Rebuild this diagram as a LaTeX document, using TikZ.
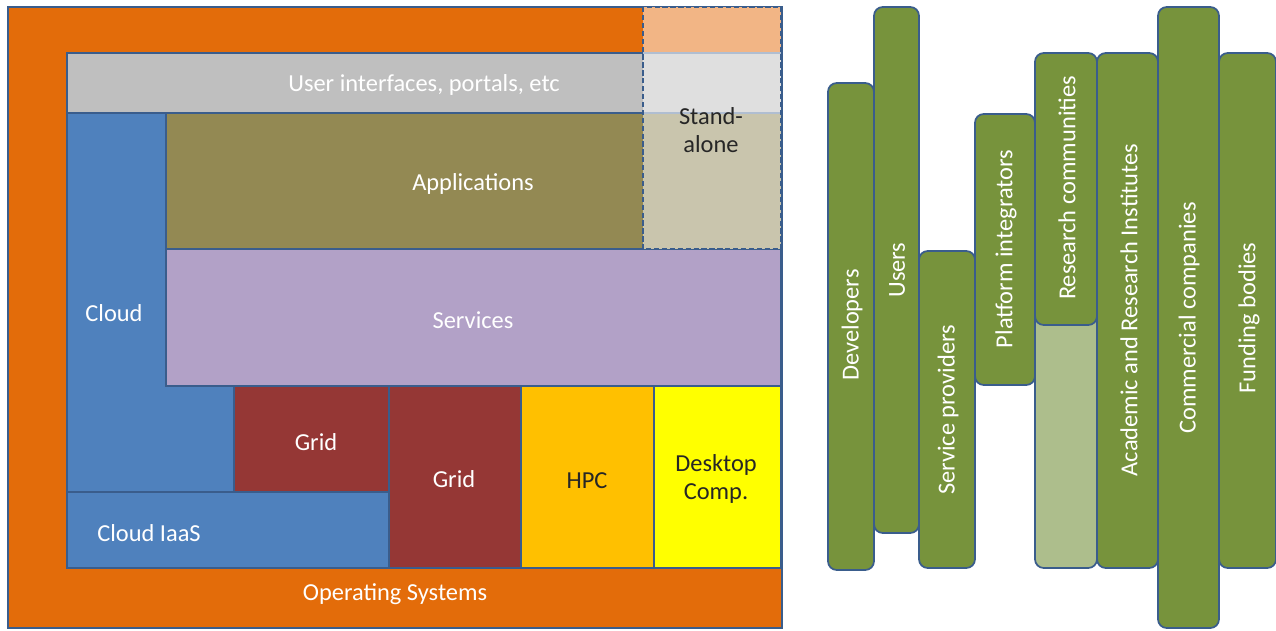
\documentclass[tikz,border=0pt]{standalone}
\usepackage{fontspec}
\setmainfont{Carlito}
\usepackage{xcolor}
\definecolor{edgeBlue}{HTML}{3A5D8C}
\definecolor{osOrange}{HTML}{E36C0A}
\definecolor{uiGray}{HTML}{BFBFBF}
\definecolor{appOlive}{HTML}{938953}
\definecolor{svcLilac}{HTML}{B2A1C7}
\definecolor{cloudBlue}{HTML}{4F81BD}
\definecolor{gridRed}{HTML}{953735}
\definecolor{hpcAmber}{HTML}{FFC000}
\definecolor{deskYellow}{HTML}{FFFF00}
\definecolor{sa Peach}{HTML}{F2B585}
\definecolor{saGray}{HTML}{DFDFDF}
\definecolor{saTan}{HTML}{C9C5AD}
\definecolor{barGreen}{HTML}{77933C}
\definecolor{paleGreen}{HTML}{ADBE8C}
\usepackage{tikz}
\usetikzlibrary{positioning,calc}
\tikzset{%
  layerBox/.style={%
    draw=edgeBlue,
    line width=1pt
  },
  layerText/.style={%
    text=white,
    font=\fontsize{13.9}{16}\selectfont,
    align=center,
    inner sep=0pt
  },
  darkText/.style={%
    layerText,
    text=black!85
  },
  actorBar/.style={%
    draw=edgeBlue,
    line width=1pt,
    fill=barGreen,
    rounded corners=5pt
  },
  actorText/.style={%
    layerText,
    rotate=90
  }
}

\begin{document}
\begin{tikzpicture}[x=0.02cm,y=-0.02cm]
  \useasboundingbox (0,0) rectangle (1276,630);

  % software stack
  \filldraw[layerBox,fill=osOrange] (8,7) rectangle (782,628);
  \filldraw[layerBox,fill=uiGray] (67,53) rectangle (781,113);
  \filldraw[layerBox,fill=appOlive] (166,113) rectangle (781,249);
  \filldraw[layerBox,fill=svcLilac] (166,249) rectangle (781,386);
  \filldraw[layerBox,fill=cloudBlue] (67,113) -- (166,113) -- (166,386)
    -- (234,386) -- (234,492) -- (67,492) -- cycle;
  \filldraw[layerBox,fill=cloudBlue] (67,492) rectangle (389,568);
  \filldraw[layerBox,fill=gridRed] (234,386) rectangle (389,492);
  \filldraw[layerBox,fill=gridRed] (389,386) rectangle (521,568);
  \filldraw[layerBox,fill=hpcAmber] (521,386) rectangle (654,568);
  \filldraw[layerBox,fill=deskYellow] (654,386) rectangle (781,568);

  % stand-alone column
  \fill[sa Peach] (643,7) rectangle (781,53);
  \fill[saGray] (643,53) rectangle (781,113);
  \fill[saTan] (643,113) rectangle (781,249);
  \draw[edgeBlue!40,line width=0.8pt] (643,53) -- (781,53) (643,113) -- (781,113);
  \draw[layerBox,dashed,dash pattern=on 3pt off 1.5pt] (643,7) rectangle (781,249);

  \node[layerText] (ui) at (424,85) {User interfaces, portals, etc};
  \node[layerText] (apps) at (473,184) {Applications};
  \node[layerText] (svc) at (473,320) {Services};
  \node[layerText] (cloud) at (114,313) {Cloud};
  \node[layerText] (iaas) at (149,533) {Cloud IaaS};
  \node[layerText] (grid1) at (316,442) {Grid};
  \node[layerText] (grid2) at (454,479) {Grid};
  \node[darkText] (hpc) at (587,481) {HPC};
  \node[darkText] (desk) at (716,479) {Desktop\\Comp.};
  \node[darkText] (sa) at (711,130) {Stand-\\alone};
  \node[layerText] (os) at (395,594) {Operating Systems};

  % stakeholders
  \filldraw[actorBar] (828,83) rectangle (874,570);
  \filldraw[actorBar] (874,7) rectangle (919,533);
  \filldraw[actorBar] (919,251) rectangle (975,568);
  \filldraw[actorBar] (975,114) rectangle (1035,385);
  \filldraw[actorBar,fill=paleGreen] (1035,290) rectangle (1097,568);
  \filldraw[actorBar] (1035,53) rectangle (1097,325);
  \filldraw[actorBar] (1097,53) rectangle (1158,568);
  \filldraw[actorBar] (1158,7) rectangle (1219,628);
  \filldraw[actorBar] (1219,53) rectangle (1276,568);

  \node[actorText] (dev) at (852,325) {Developers};
  \node[actorText] (users) at (897,270) {Users};
  \node[actorText] (sp) at (948,410) {Service providers};
  \node[actorText] (pi) at (1006,249) {Platform integrators};
  \node[actorText] (rc) at (1067,188) {Research communities};
  \node[actorText] (ari) at (1129,310) {Academic and Research Institutes};
  \node[actorText] (cc) at (1189,318) {Commercial companies};
  \node[actorText] (fb) at (1249,318) {Funding bodies};
\end{tikzpicture}
\end{document}
